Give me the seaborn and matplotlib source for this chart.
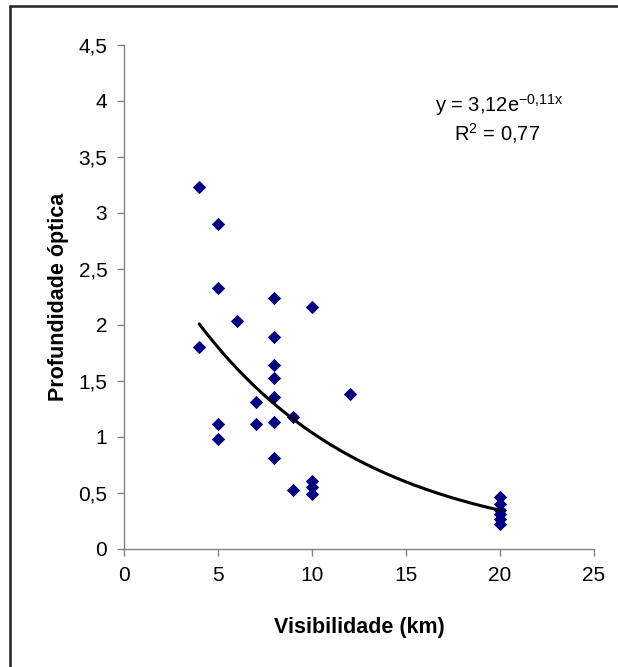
import numpy as np
import pandas as pd
import matplotlib
matplotlib.use("Agg")
import matplotlib.pyplot as plt
from matplotlib.lines import Line2D
import seaborn as sns

# Observations: visibility (km) vs. aerosol optical depth
visibilidade = [4, 4, 5, 5, 5, 5, 6, 7, 7, 8, 8, 8, 8, 8, 8, 8, 9, 9,
                10, 10, 10, 10, 12, 20, 20, 20, 20, 20, 20]
profundidade = [3.23, 1.80, 2.90, 2.33, 1.12, 0.98, 2.04, 1.31, 1.12,
                2.24, 1.89, 1.64, 1.53, 1.36, 1.13, 0.81, 1.18, 0.53,
                2.16, 0.61, 0.55, 0.49, 1.38, 0.46, 0.40, 0.35, 0.31,
                0.27, 0.22]

# Exponential trend line y = a * exp(b * x)
coef_a = 3.12
coef_b = -0.11
r2 = 0.77

x_ticks = [0, 5, 10, 15, 20, 25]
x_labels = ["0", "5", "10", "15", "20", "25"]
y_ticks = [0, 0.5, 1, 1.5, 2, 2.5, 3, 3.5, 4, 4.5]
y_labels = ["0", "0,5", "1", "1,5", "2", "2,5", "3", "3,5", "4", "4,5"]

sns.set_theme(style="white")
plt.rcParams["font.family"] = ["Liberation Sans", "DejaVu Sans"]
plt.rcParams["mathtext.default"] = "regular"
plt.rcParams["text.color"] = "black"
plt.rcParams["axes.labelcolor"] = "black"

df = pd.DataFrame({"vis": visibilidade, "tau": profundidade})

fig = plt.figure(figsize=(6.18, 6.67), dpi=100)
ax = fig.add_axes([124 / 618, 1 - 549 / 667, 470 / 618, 504 / 667])

sns.scatterplot(data=df, x="vis", y="tau", ax=ax, marker="D", s=46,
                color="#000080", linewidth=0, zorder=3)

xs = np.linspace(min(visibilidade), max(visibilidade), 200)
ax.plot(xs, coef_a * np.exp(coef_b * xs), color="black", lw=2.2, zorder=4)

ax.set_xlim(0, 25)
ax.set_ylim(0, 4.5)
ax.set_xticks(x_ticks)
ax.set_xticklabels(x_labels)
ax.set_yticks(y_ticks)
ax.set_yticklabels(y_labels)
ax.tick_params(axis="both", direction="out", length=5, width=1,
               color="#808080", labelsize=15, labelcolor="black",
               bottom=True, left=True)
ax.tick_params(axis="x", pad=7)
ax.tick_params(axis="y", pad=7)
for side in ("top", "right"):
    ax.spines[side].set_visible(False)
for side in ("left", "bottom"):
    ax.spines[side].set_color("#808080")
    ax.spines[side].set_linewidth(1)
ax.grid(False)

ax.set_xlabel("Visibilidade (km)", fontsize=15.5, fontweight="bold",
              labelpad=23)
ax.set_ylabel("Profundidade óptica", fontsize=15.5, fontweight="bold",
              labelpad=7)

ax.text(499 / 618, 1 - 105 / 667,
        "y = 3,12e$^{-0{,}11x}$",
        transform=fig.transFigure, ha="center", va="center", fontsize=14.5)
ax.text(497 / 618, 1 - 133 / 667, "R$^{2}$ = 0,77",
        transform=fig.transFigure, ha="center", va="center", fontsize=14.5)

# Chart-area frame (top and left edges visible in the canvas)
fig.add_artist(Line2D([9.5 / 618, 1.0], [1 - 5.5 / 667, 1 - 5.5 / 667],
                      transform=fig.transFigure, color="#222222", lw=1.8))
fig.add_artist(Line2D([9.5 / 618, 9.5 / 618], [0.0, 1 - 5.5 / 667],
                      transform=fig.transFigure, color="#222222", lw=1.8))

fig.savefig("out.png", dpi=100, facecolor="white")
